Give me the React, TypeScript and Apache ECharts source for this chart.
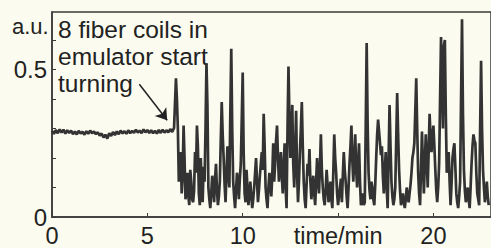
import React, { useEffect, useRef } from "react";
import * as echarts from "echarts";

// Sampling steps of the recorded trace, minutes
const FLAT_STEP = 0.1;
const TURNING_START = 6.5;
const TURNING_STEP = 0.05;

// Before the coils start turning: t = 0 .. 6.4 min (a.u.)
const flatValues = [
  0.292, 0.282, 0.295, 0.284, 0.297, 0.286, 0.296, 0.283, 0.294, 0.285,
  0.293, 0.281, 0.290, 0.280, 0.292, 0.283, 0.289, 0.279, 0.291, 0.282,
  0.293, 0.284, 0.290, 0.281, 0.287, 0.276, 0.283, 0.270, 0.279, 0.266,
  0.284, 0.275, 0.288, 0.278, 0.290, 0.281, 0.293, 0.283, 0.291, 0.282,
  0.294, 0.284, 0.292, 0.285, 0.296, 0.286, 0.293, 0.284, 0.297, 0.287,
  0.295, 0.285, 0.294, 0.284, 0.292, 0.283, 0.295, 0.285, 0.296, 0.286,
  0.294, 0.287, 0.298, 0.288, 0.302,
];

// After the coils start turning: t = 6.5 .. 22.9 min (a.u.)
const turningValues = [
  0.47, 0.40, 0.30, 0.12, 0.18, 0.22, 0.08, 0.14, 0.31, 0.20, 0.06, 0.10, 0.15, 0.07, 0.04, 0.16, 0.12, 0.06, 0.05, 0.09,
  0.22, 0.15, 0.31, 0.24, 0.08, 0.04, 0.20, 0.11, 0.05, 0.17, 0.12, 0.30, 0.52, 0.38, 0.10, 0.06, 0.03, 0.08, 0.14, 0.10,
  0.05, 0.13, 0.18, 0.09, 0.04, 0.07, 0.12, 0.26, 0.39, 0.28, 0.20, 0.11, 0.05, 0.15, 0.24, 0.14, 0.10, 0.35, 0.57, 0.30,
  0.12, 0.07, 0.03, 0.09, 0.15, 0.12, 0.06, 0.13, 0.18, 0.33, 0.49, 0.22, 0.08, 0.05, 0.16, 0.10, 0.04, 0.08, 0.12, 0.07,
  0.03, 0.06, 0.10, 0.15, 0.20, 0.12, 0.05, 0.09, 0.14, 0.18, 0.22, 0.16, 0.35, 0.24, 0.10, 0.06, 0.03, 0.10, 0.15, 0.11,
  0.07, 0.14, 0.25, 0.12, 0.18, 0.26, 0.31, 0.20, 0.12, 0.17, 0.22, 0.14, 0.08, 0.18, 0.25, 0.10, 0.03, 0.30, 0.51, 0.34,
  0.20, 0.27, 0.38, 0.18, 0.10, 0.22, 0.36, 0.15, 0.05, 0.12, 0.22, 0.30, 0.39, 0.24, 0.12, 0.06, 0.03, 0.11, 0.18, 0.14,
  0.23, 0.12, 0.06, 0.10, 0.14, 0.08, 0.04, 0.12, 0.20, 0.13, 0.08, 0.17, 0.28, 0.16, 0.10, 0.06, 0.04, 0.09, 0.16, 0.11,
  0.05, 0.08, 0.12, 0.06, 0.03, 0.15, 0.28, 0.20, 0.15, 0.08, 0.04, 0.07, 0.10, 0.13, 0.05, 0.14, 0.22, 0.16, 0.12, 0.07,
  0.03, 0.10, 0.18, 0.24, 0.31, 0.19, 0.12, 0.20, 0.28, 0.16, 0.10, 0.18, 0.25, 0.12, 0.04, 0.06, 0.08, 0.04, 0.05, 0.30,
  0.59, 0.32, 0.15, 0.09, 0.06, 0.12, 0.10, 0.06, 0.04, 0.11, 0.20, 0.28, 0.33, 0.29, 0.25, 0.21, 0.24, 0.14, 0.08, 0.16,
  0.22, 0.10, 0.03, 0.20, 0.38, 0.24, 0.12, 0.07, 0.04, 0.06, 0.10, 0.26, 0.42, 0.28, 0.16, 0.09, 0.04, 0.06, 0.08, 0.05,
  0.03, 0.06, 0.10, 0.07, 0.05, 0.08, 0.11, 0.15, 0.20, 0.22, 0.25, 0.36, 0.47, 0.30, 0.15, 0.08, 0.04, 0.16, 0.29, 0.18,
  0.08, 0.18, 0.28, 0.20, 0.10, 0.22, 0.35, 0.27, 0.22, 0.28, 0.31, 0.24, 0.16, 0.09, 0.05, 0.10, 0.18, 0.40, 0.61, 0.45,
  0.30, 0.58, 0.60, 0.35, 0.15, 0.18, 0.22, 0.12, 0.04, 0.11, 0.20, 0.23, 0.25, 0.17, 0.08, 0.05, 0.03, 0.07, 0.12, 0.40,
  0.67, 0.35, 0.16, 0.09, 0.05, 0.08, 0.10, 0.06, 0.03, 0.10, 0.18, 0.24, 0.28, 0.26, 0.25, 0.15, 0.08, 0.06, 0.04, 0.30,
  0.53, 0.30, 0.16, 0.10, 0.05, 0.08, 0.12, 0.07, 0.04,
];

const xLabels: Record<number, string> = { 0: "0", 5: "5", 10: "10", 15: "time/min", 20: "20" };
const yLabels: Record<string, string> = { "0": "0", "0.5": "0.5" };

const annotationLines = ["8 fiber coils in", "emulator start", "turning"];
const arrowFrom = [4.58, 0.45];
const arrowTo = [6.04, 0.328];

const BG = "#fbfbef";
const INK = "#222222";
const FONT = "Liberation Sans, Arial, sans-serif";

export default function App() {
  const ref = useRef<HTMLDivElement>(null);

  useEffect(() => {
    if (!ref.current) return;
    const chart = echarts.init(ref.current, undefined, { renderer: "svg" });
    const round = (t: number) => Math.round(t * 1000) / 1000;
    const data = [
      ...flatValues.map((v, i) => [round(i * FLAT_STEP), v]),
      ...turningValues.map((v, j) => [round(TURNING_START + j * TURNING_STEP), v]),
    ];

    chart.setOption({
      animation: false,
      backgroundColor: BG,
      grid: {
        left: 52,
        top: 12,
        bottom: 29,
        right: -3,
        show: true,
        borderColor: "#3a3a3a",
        borderWidth: 1.5,
        backgroundColor: "transparent",
      },
      xAxis: {
        type: "value",
        min: 0,
        max: 23.02,
        interval: 5,
        splitLine: { show: false },
        axisLine: { show: true, lineStyle: { color: "#3a3a3a", width: 1.5 } },
        axisTick: { show: true, inside: true, length: 4, lineStyle: { color: "#3a3a3a", width: 1 } },
        axisLabel: {
          color: INK,
          fontSize: 23.5,
          fontFamily: FONT,
          margin: 7,
          showMaxLabel: false,
          formatter: (v: number) => xLabels[v] ?? "",
        },
      },
      yAxis: {
        type: "value",
        min: 0,
        max: 0.695,
        interval: 0.1,
        splitLine: { show: false },
        axisLine: { show: true, lineStyle: { color: "#3a3a3a", width: 1.5 } },
        axisTick: { show: true, inside: true, length: 4, lineStyle: { color: "#3a3a3a", width: 1 } },
        axisLabel: {
          color: INK,
          fontSize: 24,
          fontFamily: FONT,
          margin: 5,
          showMaxLabel: false,
          formatter: (v: number) => yLabels[String(Math.round(v * 10) / 10)] ?? "",
        },
      },
      series: [
        {
          type: "line",
          data,
          symbol: "none",
          lineStyle: { color: "#333333", width: 2.7 },
          markLine: {
            silent: true,
            symbol: ["none", "arrow"],
            symbolSize: 11,
            label: { show: false },
            lineStyle: { color: INK, width: 1.5, type: "solid" },
            data: [[{ coord: arrowFrom }, { coord: arrowTo }]],
          },
        },
      ],
      graphic: [
        {
          type: "text",
          left: 12,
          top: 15,
          style: { text: "a.u.", fontSize: 22, fontFamily: FONT, fill: INK },
        },
        {
          type: "text",
          left: 58,
          top: 16,
          style: {
            text: annotationLines.join("\n"),
            fontSize: 24.5,
            lineHeight: 27,
            fontFamily: FONT,
            fill: INK,
          },
        },
      ],
    });
    return () => chart.dispose();
  }, []);

  return (
    <div
      ref={ref}
      style={{ position: "fixed", left: 0, top: 0, width: 491, height: 248, background: BG }}
    />
  );
}
